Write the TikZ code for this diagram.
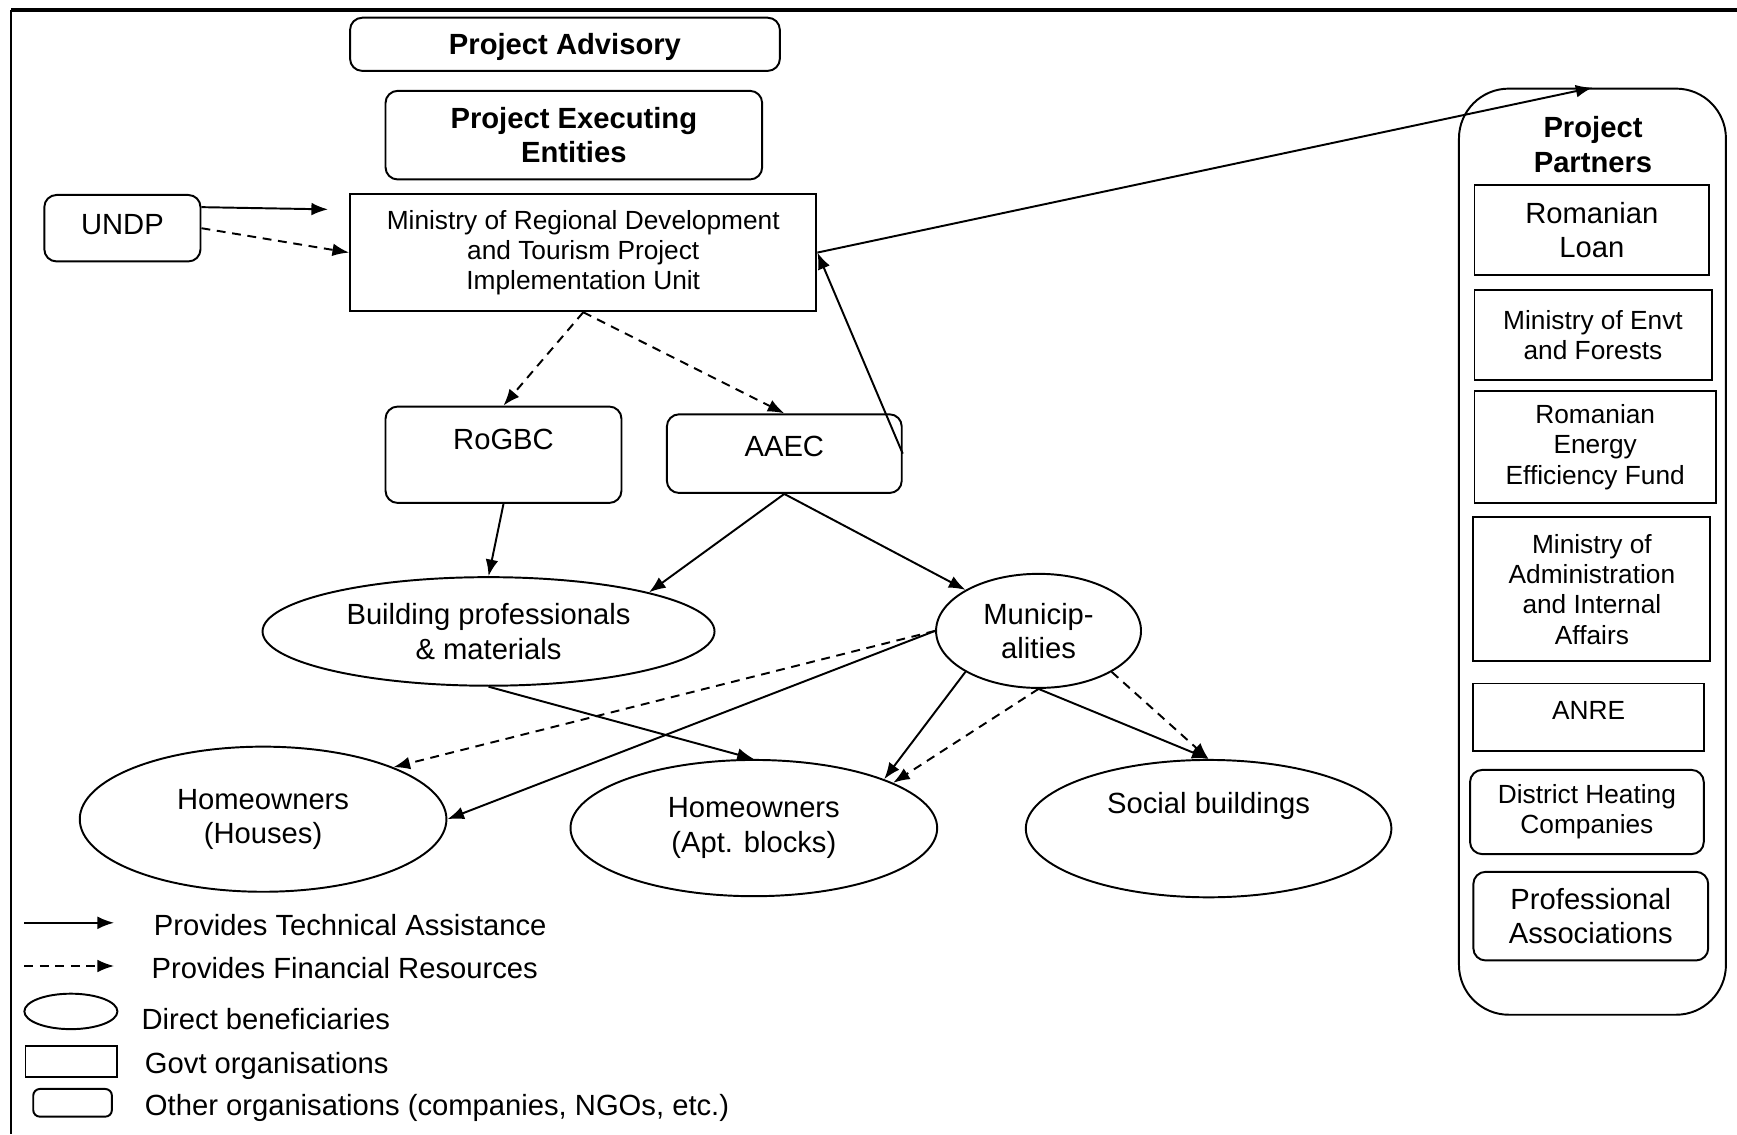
\documentclass[tikz,border=0pt]{standalone}
\usepackage{fontspec}
\setmainfont{Liberation Sans}
\usepackage{tikz}
\usetikzlibrary{shapes.geometric,arrows.meta,calc}

\newcommand\px{0.02cm}
\newcommand\mainsize{\fontsize{15pt}{17.6pt}\selectfont}
\newcommand\partsize{\fontsize{13.5pt}{15.6pt}\selectfont}

\begin{document}
\begin{tikzpicture}[x=0.02cm,y=-0.02cm,line width=1pt,font=\mainsize,
  dims/.style 2 args={minimum width=#1*\px,minimum height=#2*\px},
  govt/.style={draw,inner sep=0pt,align=center},
  other/.style={govt,rounded corners=0.22cm},
  benef/.style={draw,ellipse,inner sep=0pt,align=center},
  legend/.style={anchor=west,inner sep=0pt},
  ta/.style={-{Latex[length=0.3cm,width=0.23cm]}},
  fr/.style={ta,dash pattern=on 0.16cm off 0.12cm}]
  \useasboundingbox (0,0) rectangle (1568,1024);
  % frame
  \draw[line width=1.6pt] (1568,9) -- (10,9);
  \draw (10,9) -- (10,1024);

  % executing side
  \node[other,dims={388}{48},font=\mainsize\bfseries,text depth=0pt] (adv) at (510,40) {Project Advisory};
  \node[other,dims={340}{80},font=\mainsize\bfseries] (exec) at (518,122) {Project Executing\\Entities};
  \node[other,dims={141}{60},text depth=0.12cm] (undp) at (110.5,206) {UNDP};
  \node[govt,dims={421}{106},font=\partsize] (mrd) at (526.5,228)
    {Ministry of Regional Development\\and Tourism Project\\Implementation Unit};
  \node[other,dims={213}{87},text depth=0.54cm] (rogbc) at (454.5,410.5) {RoGBC};
  \node[other,dims={212}{71},text depth=0.26cm] (aaec) at (708,409.5) {AAEC};

  % beneficiaries
  \node[benef,dims={408}{98}] (build) at (441,570) {Building professionals\\\& materials};
  \node[benef,dims={185}{103}] (munic) at (937.5,569.5) {Municip-\\alities};
  \node[benef,dims={331}{131}] (houses) at (237.5,739.5) {Homeowners\\(Houses)};
  \node[benef,dims={331}{123}] (apt) at (680.5,747.5) {Homeowners\\(Apt. blocks)};
  \node[benef,dims={330}{124},text depth=0.92cm] (social) at (1091,748) {Social buildings};

  % partners
  \node[draw,rounded corners=0.9cm,dims={241}{836}] (partners) at (1437.5,498) {};
  \node[font=\mainsize\bfseries,align=center] (ptitle) at (1438,130.5) {Project\\Partners};
  \node[govt,dims={212}{81}] (loan) at (1437,207.5) {Romanian\\Loan};
  \node[govt,dims={214}{81},font=\partsize] (envt) at (1438,302.5) {Ministry of Envt\\and Forests};
  \node[govt,dims={218}{101},font=\partsize] (reef) at (1440,403.5) {Romanian\\Energy\\Efficiency Fund};
  \node[govt,dims={214}{130},font=\partsize] (admin) at (1437,532)
    {Ministry of\\Administration\\and Internal\\Affairs};
  \node[govt,dims={208}{61},font=\partsize,text depth=0.26cm] (anre) at (1434,647.5) {ANRE};
  \node[other,dims={211}{76},font=\partsize] (heat) at (1432.5,733) {District Heating\\Companies};
  \node[other,dims={212}{80}] (assoc) at (1436,827) {Professional\\Associations};

  % connectors
  \coordinate (undphead) at ($(mrd.west)+(-19,-39)$);
  \draw[ta] ($(undp.east)+(0,-19)$) -- (undphead);
  \draw[fr] (undp.east) -- (mrd.west);
  \draw[fr] (mrd.south) -- (rogbc.north);
  \draw[fr] (mrd.south) -- (aaec.north);
  \draw[ta] (aaec.east) -- (mrd.east);
  \draw[ta] (mrd.east) -- (partners.north);
  \draw[ta] (rogbc.south) -- (build.north);
  \draw[ta] (aaec.south) -- (build.north east);
  \draw[ta] (aaec.south) -- (munic.north west);
  \draw[ta] (build.south) -- (apt.north);
  \draw[fr] (munic.west) -- (houses.north east);
  \draw[ta] (munic.west) -- (houses.east);
  \draw[ta] (munic.south west) -- (apt.north east);
  \draw[fr] (munic.south) -- (apt.18);
  \draw[ta] (munic.south) -- (social.north);
  \draw[fr] (munic.south east) -- (social.north);

  % legend
  \coordinate (tastart) at (22,833);
  \coordinate (taend) at (103,833);
  \coordinate (frstart) at (22,872);
  \coordinate (frend) at (103,872);
  \draw[ta] (tastart) -- (taend);
  \node[legend] (talabel) at (138,835) {Provides Technical Assistance};
  \draw[fr] (frstart) -- (frend);
  \node[legend] (frlabel) at (136,874) {Provides Financial Resources};
  \node[draw,ellipse,inner sep=0pt,dims={84}{32}] (benefkey) at (64,913) {};
  \node[legend] (beneflabel) at (127,920) {Direct beneficiaries};
  \node[govt,dims={83}{28}] (govtkey) at (64.5,958) {};
  \node[legend] (govtlabel) at (130,962) {Govt organisations};
  \node[govt,rounded corners=0.12cm,dims={71}{25}] (otherkey) at (65.5,995.5) {};
  \node[legend] (otherlabel) at (130,1000) {Other organisations (companies, NGOs, etc.)};
\end{tikzpicture}
\end{document}
